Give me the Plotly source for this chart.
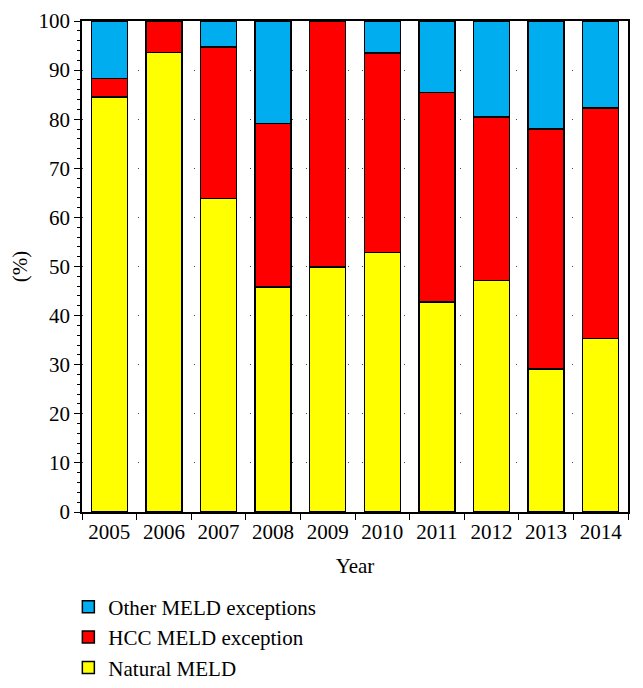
import plotly.graph_objects as go

years = ["2005", "2006", "2007", "2008", "2009", "2010", "2011", "2012", "2013", "2014"]
natural = [84.5, 93.6, 63.9, 45.8, 49.9, 52.9, 42.8, 47.1, 29.1, 35.3]
hcc = [3.8, 6.4, 30.8, 33.3, 50.1, 40.6, 42.6, 33.3, 48.9, 47.0]
other = [11.7, 0.0, 5.3, 20.9, 0.0, 6.5, 14.6, 19.6, 22.0, 17.7]

font_family = "Liberation Serif"
line = dict(color="black", width=1.5)

fig = go.Figure()
fig.add_trace(go.Bar(x=years, y=natural, name="Natural MELD",
                     marker=dict(color="#FFFF00", line=line)))
fig.add_trace(go.Bar(x=years, y=hcc, name="HCC MELD exception",
                     marker=dict(color="#FF0000", line=line)))
fig.add_trace(go.Bar(x=years, y=other, name="Other MELD exceptions",
                     marker=dict(color="#00AEEF", line=line)))

fig.update_layout(
    barmode="stack",
    bargap=0.34,
    width=635, height=680,
    margin=dict(l=74, r=15, t=13, b=176, autoexpand=False),
    plot_bgcolor="white", paper_bgcolor="white",
    font=dict(family=font_family, size=21, color="black"),
    legend=dict(orientation="v", x=-0.025, y=-0.152, xanchor="left", yanchor="top",
                traceorder="reversed", font=dict(size=21, family=font_family),
                itemwidth=30, tracegroupgap=0),
    showlegend=True,
)
fig.update_xaxes(
    title=dict(text="Year", standoff=15, font=dict(size=21)),
    automargin=False,
    showline=True, linecolor="black", linewidth=1.5, mirror=True,
    ticks="outside", ticklen=6, tickcolor="black", tickson="boundaries",
    showgrid=False,
)
fig.update_yaxes(
    title=dict(text="(%)", standoff=6, font=dict(size=21)),
    automargin=False,
    range=[0, 100], dtick=10,
    showline=True, linecolor="black", linewidth=1.5, mirror=True,
    ticks="outside", ticklen=6, tickcolor="black",
    minor=dict(dtick=2, ticks="outside", ticklen=3, tickcolor="black", showgrid=False),
    showgrid=True, gridcolor="#444444", gridwidth=1, griddash="1px,13px",
    zeroline=False,
)

fig.write_html("out.html")
